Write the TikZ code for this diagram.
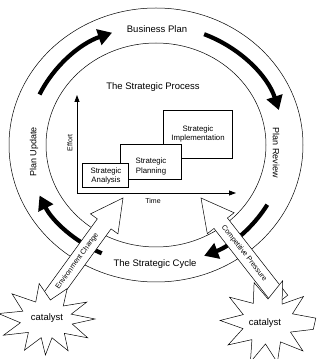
\documentclass[tikz,border=0pt]{standalone}
\usepackage{fontspec}
\setmainfont{Liberation Sans}
\usetikzlibrary{arrows.meta,calc}
\begin{document}
\begin{tikzpicture}[x=1pt,y=1pt,
  thinline/.style={line width=0.5pt},
  cyclearrow/.style={line width=4.2pt,-{Triangle[length=14pt,width=16pt]}},
  axisarrow/.style={line width=0.8pt,-{Triangle[length=7pt,width=5pt]}},
  stagebox/.style={draw,fill=white,line width=0.5pt,inner sep=0pt},
  blockarrow/.style={draw,fill=white,line width=0.5pt,line join=miter},
  burst/.style={draw,fill=white,line width=0.5pt},
  bigtext/.style={font=\fontsize{9.5}{11}\selectfont},
  ringtext/.style={font=\fontsize{9}{11}\selectfont},
  boxtext/.style={font=\fontsize{7.8}{9.5}\selectfont,align=center},
  smalltext/.style={font=\fontsize{7}{8}\selectfont},
  arrowtext/.style={font=\fontsize{7.2}{8.5}\selectfont}]
\useasboundingbox (0,0) rectangle (317,359);
\fill[white] (0,0) rectangle (317,359);
\coordinate (c) at (156,214);
% rings
\draw[thinline] (c) ellipse [x radius=147, y radius=137];
\draw[thinline] (c) ellipse [x radius=110, y radius=102];
% cycle arrows
\draw[cyclearrow] ($(c)+(155:128.5 and 119.5)$) arc[start angle=155,end angle=110,x radius=128.5,y radius=119.5];
\draw[cyclearrow] ($(c)+(68:128.5 and 119.5)$) arc[start angle=68,end angle=17,x radius=128.5,y radius=119.5];
\draw[cyclearrow] ($(c)+(-30:128.5 and 119.5)$) arc[start angle=-30,end angle=-68,x radius=128.5,y radius=119.5];
\draw[cyclearrow] ($(c)+(-115:128.5 and 119.5)$) arc[start angle=-115,end angle=-155,x radius=128.5,y radius=119.5];
% ring labels
\node[bigtext] (bp) at (157,330) {Business Plan};
\node[ringtext,rotate=90] (pu) at (34,207) {Plan Update};
\node[ringtext,rotate=-90] (pr) at (276,206) {Plan Review};
\node[bigtext] (sc) at (155,95) {The Strategic Cycle};
% block arrows
\begin{scope}[shift={(123,161)},rotate=54]
  \draw[blockarrow] (0,0) -- (-32,17) -- (-32,8.5) -- (-130,8.5) -- (-130,-8.5) -- (-32,-8.5) -- (-32,-17) -- cycle;
  \node[arrowtext,rotate=54] (ec) at (-78,0) {Environment Change};
\end{scope}
\begin{scope}[shift={(201,161)},rotate=128]
  \draw[blockarrow] (0,0) -- (-32,17) -- (-32,8.5) -- (-130,8.5) -- (-130,-8.5) -- (-32,-8.5) -- (-32,-17) -- cycle;
  \node[arrowtext,rotate=-52] (cp) at (-70,0) {Competitive Pressure};
\end{scope}
% catalysts
\begin{scope}[shift={(47,40)},yscale=0.8]
  \draw[burst] (0:48) -- (14:25) -- (28:45) -- (45:23) -- (62:43) -- (82:24) -- (100:45) -- (118:24) -- (138:47) -- (158:26) -- (172:49) -- (190:27) -- (205:48) -- (222:25) -- (240:45) -- (256:24) -- (268:45) -- (282:24) -- (298:45) -- (314:25) -- (330:47) -- (346:26) -- cycle;
\end{scope}
\begin{scope}[shift={(268,37)},yscale=0.92]
  \draw[burst] (5:48) -- (20:26) -- (38:45) -- (54:24) -- (72:47) -- (90:25) -- (108:45) -- (126:25) -- (145:47) -- (162:26) -- (178:48) -- (196:26) -- (212:47) -- (230:25) -- (248:47) -- (264:24) -- (282:45) -- (300:25) -- (318:47) -- (334:25) -- (350:46) -- cycle;
\end{scope}
\node[bigtext] (cat1) at (47,41) {catalyst};
\node[bigtext] (cat2) at (265,36) {catalyst};
% strategic process
\node[bigtext] (sp) at (153,272) {The Strategic Process};
\coordinate (o) at (77,166);
\coordinate (ytip) at (77,264);
\coordinate (xtip) at (236,166);
\draw[axisarrow] (o) -- (ytip);
\draw[axisarrow] (o) -- (xtip);
\node[smalltext,rotate=90] (effort) at (70,216) {Effort};
\node[smalltext] (time) at (153,158) {Time};
\node[stagebox,minimum width=69,minimum height=48] (si) at (197.5,225) {};
\node[boxtext] (sit) at (198,225) {Strategic\\Implementation};
\node[stagebox,minimum width=61,minimum height=35] (spl) at (150.5,197.5) {};
\node[boxtext] (splt) at (151,192.5) {Strategic\\Planning};
\node[stagebox,minimum width=46,minimum height=24] (sa) at (105,184) {};
\node[boxtext] (sat) at (106,183) {Strategic\\Analysis};
\end{tikzpicture}
\end{document}
